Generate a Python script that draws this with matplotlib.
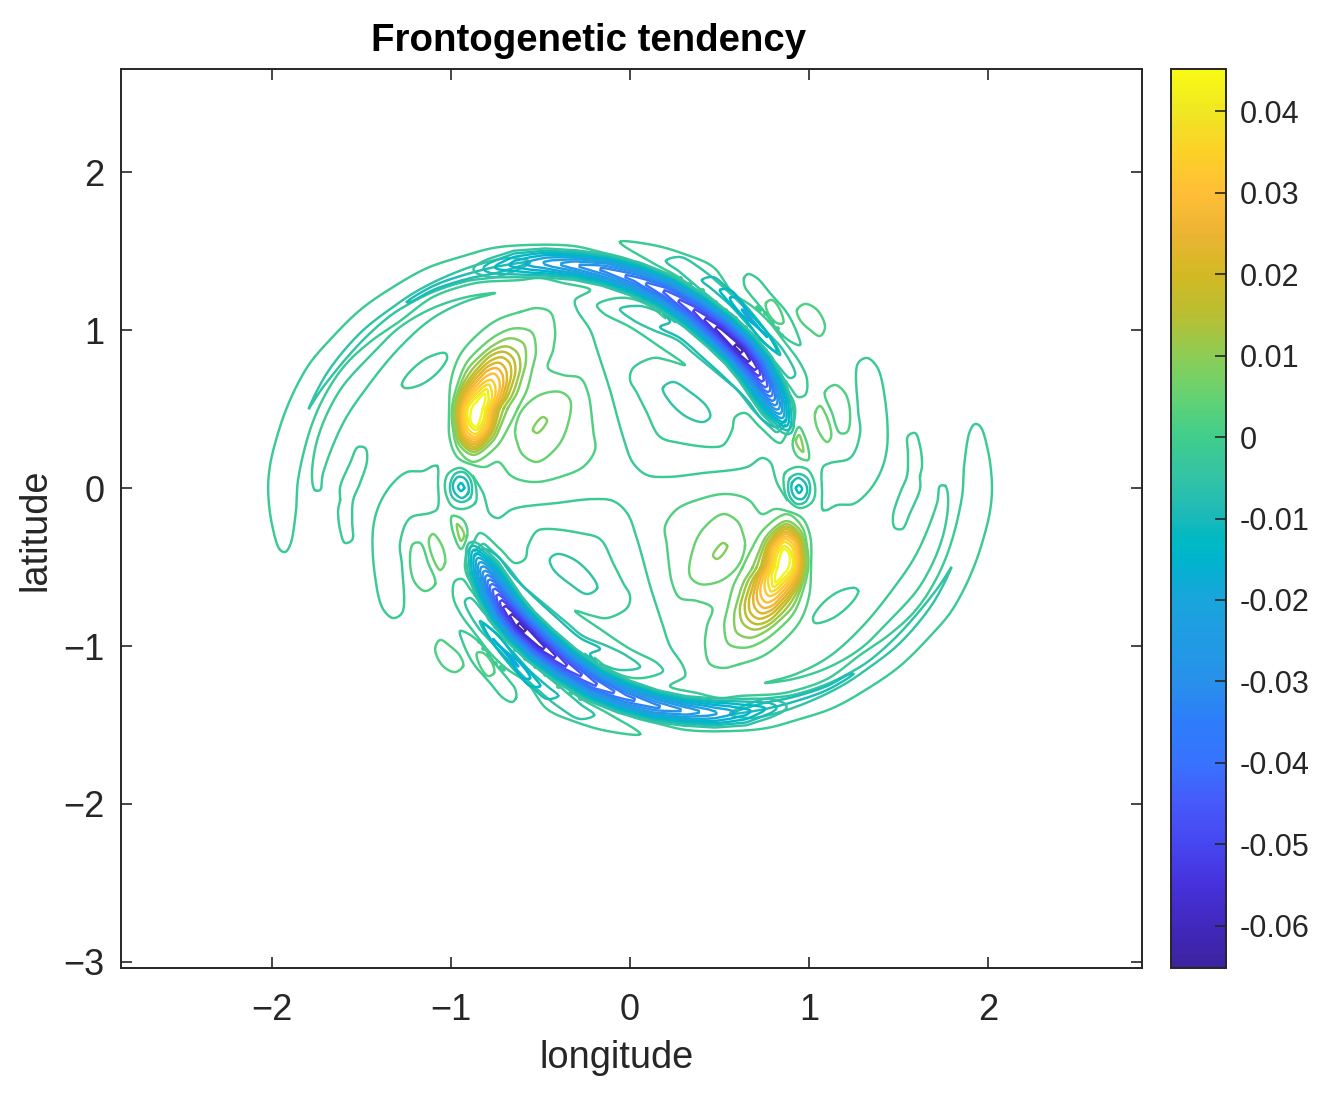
import numpy as np
import matplotlib
matplotlib.use("Agg")
import matplotlib.pyplot as plt
from matplotlib.colors import LinearSegmentedColormap, Normalize
from matplotlib.cm import ScalarMappable

plt.rcParams['font.family'] = ['Liberation Sans', 'DejaVu Sans']

# ---------- readings from the picture (longitude, latitude, field value) ----------
VMIN, VMAX = -0.0652, 0.0452
XLIM = (-2.844, 2.860)
YLIM = (-3.038, 2.652)
x_ticks = [-2, -1, 0, 1, 2]
x_tick_labels = ['\u22122', '\u22121', '0', '1', '2']
y_ticks = [-3, -2, -1, 0, 1, 2]
y_tick_labels = ['\u22123', '\u22122', '\u22121', '0', '1', '2']
cb_ticks = [-0.06, -0.05, -0.04, -0.03, -0.02, -0.01, 0, 0.01, 0.02, 0.03, 0.04]
cb_tick_labels = ['-0.06', '-0.05', '-0.04', '-0.03', '-0.02', '-0.01', '0', '0.01', '0.02', '0.03', '0.04']

cmap_values = [-0.0652, -0.06, -0.055, -0.05, -0.045, -0.04, -0.035, -0.03, -0.02, -0.015, -0.0125,
               -0.01, -0.005, 0, 0.005, 0.01, 0.015, 0.02, 0.025, 0.03, 0.035, 0.04, 0.0452]
cmap_colors = ['#3c23a0', '#4128be', '#4632dc', '#4646f0', '#465afa', '#3773ff', '#2d7dfa', '#2891eb',
               '#19a5dc', '#00b4cd', '#00b9c3', '#19b9b9', '#32c3a5', '#41cd8c', '#64d273', '#8ccd55',
               '#b9be32', '#d2b923', '#ebb432', '#ffbe37', '#fdd028', '#f0e623', '#f8fa14']

LV_M1, LV_M2, LV_M3, LV_M4, LV_M5, LV_M6 = -0.00175, -0.00525, -0.00875, -0.01225, -0.01575, -0.01925
LV_P1, LV_P2, LV_P3 = 0.00175, 0.00525, 0.00875

long_lon = [.877,.821,.782,.737,.654,.408,.207,.095,.017,-.039,-.112,-.179,-.223,-.296,-.307,-.223,-.374,-.503,-.615,
            -.821,-.911,-1.101,-1.285,-1.453,-1.592,-1.704,-1.788,-1.855,-1.866,-1.899,-1.927,-1.955,-2.0,-2.022,-2.011,-1.978,
            -1.927,-1.86,-1.788,-1.693,-1.508,-1.324,-1.134,-.95,-.765,-.575,-.318,-.168,0,.128,.279,.503,.687,.81,.894,.922,
            .911,.877,.838,.726,.642,.587,.57,.52,.464,.279,.168,.095,.039,0,.017,.128,.207,.307,.168,0,-.151,-.184,
            -.128,-.017,.101,.196]
long_lat = [-.076,.032,.165,.19,.133,.095,.07,.082,.158,.323,.62,.854,1.0,1.127,1.19,1.253,1.297,1.329,1.316,
            1.304,1.285,1.209,1.057,.924,.778,.589,.367,.051,-.139,-.361,-.405,-.392,-.234,-.013,.146,.304,
            .481,.652,.791,.918,1.127,1.272,1.392,1.462,1.519,1.538,1.532,1.494,1.443,1.367,1.253,1.051,.842,.671,.589,.506,
            .411,.348,.285,.386,.475,.449,.367,.272,.259,.285,.323,.475,.601,.684,.759,.823,.81,.778,.892,1.019,1.108,1.158,
            1.19,1.203,1.158,1.076]

ring0_lon = [-.615,-.52,-.447,-.419,-.43,-.458,-.374,-.279,-.235,-.207,-.196,-.263,-.391,-.52,-.615,-.67,-.737,-.81,-.877,-.961,-1.006,-1.011,-1.0,-.95,-.855,-.743]
ring0_lat = [1.114,1.139,1.114,1.0,.873,.759,.715,.696,.601,.367,.241,.133,.07,.038,.051,.082,.165,.133,.146,.19,.304,.494,.684,.842,.968,1.063]

oval_lon = [.184,.24,.335,.43,.447,.408,.318,.223]
oval_lat = [.633,.671,.608,.513,.449,.418,.449,.544]

under1_lon = [.168,.056,-.056,.017,.128,.263,.352,.486,.598,.687,.782,.821,.866]
under1_lat = [1.114,1.152,1.133,1.063,1.0,.937,.854,.728,.62,.494,.386,.354,.399]
under2_lon = [.251,.184,.223,.168,.279,.408,.542,.654,.743,.821,.866]
under2_lat = [1.051,1.108,1.051,1.019,.949,.823,.684,.557,.43,.386,.43]

over_lon = [-.056,.128,.318,.464,.575,.687,.782,.855,.95,.989,.978,.939,.894,.821,.687,.503,.279,.128]
over_lat = [1.557,1.538,1.475,1.399,1.234,1.146,1.044,.937,.791,.684,.589,.576,.639,.747,.937,1.127,1.329,1.424]
f_lon = [.201,.279,.391,.52,.642,.754,.855,.922,.894,.81,.67,.531,.391,.279]
f_lat = [1.437,1.462,1.392,1.272,1.139,1.0,.873,.715,.696,.797,.968,1.127,1.259,1.367]
j_lon = [.402,.464,.542,.631,.743,.821,.838,.765,.67,.559,.464]
j_lat = [1.316,1.335,1.266,1.171,1.019,.892,.842,.905,1.019,1.158,1.253]
k_lon = [.503,.559,.654,.765,.821,.743,.654,.542]
k_lat = [1.253,1.253,1.127,.981,.861,.924,1.051,1.19]
l_lon = [.559,.598,.67,.765,.709,.615]
l_lat = [1.203,1.203,1.082,.956,1.019,1.108]
m_lon = [.626,.659,.687,.659]
m_lat = [1.127,1.095,1.051,1.076]

g_lon = [.637,.659,.709,.782,.877,.933,.95,.911,.838,.743,.682,.642]
g_lat = [1.329,1.354,1.329,1.234,1.108,.981,.905,.918,.981,1.127,1.209,1.272]
h_lon = [.76,.793,.838,.855,.821,.771]
h_lat = [1.171,1.19,1.127,1.044,1.044,1.108]
i_lon = [.933,.978,1.045,1.089,1.061,1.006,.95]
i_lat = [1.127,1.165,1.127,1.019,.962,1.0,1.063]

y_lon = [-1.62,-1.62,-1.564,-1.52,-1.48,-1.469,-1.508,-1.547,-1.553,-1.553,-1.592,-1.62,-1.631]
y_lat = [-.076,.006,.158,.259,.253,.177,.032,-.076,-.203,-.329,-.348,-.266,-.139]
z_lon = [1.078,1.073,1.078,1.117,1.229,1.285,1.274,1.274,1.324,1.38,1.425,1.436,1.397,1.324,1.246,1.156,1.101]
z_lat = [-.139,-.032,.133,.158,.19,.348,.494,.791,.823,.766,.557,.259,.095,-.032,-.101,-.108,-.139]
x_lon = [-1.274,-1.246,-1.134,-1.034,-1.022,-1.078,-1.173,-1.257]
x_lat = [.652,.715,.823,.854,.823,.728,.652,.633]

w1_lon = [-.642,-.603,-.503,-.391,-.335,-.352,-.408,-.52,-.598,-.631]
w1_lat = [.367,.494,.589,.608,.557,.386,.259,.165,.209,.291]
w2_lon = [-.542,-.52,-.486,-.464,-.486,-.52]
w2_lat = [.367,.418,.449,.43,.38,.348]

aa_lon = [1.089,1.145,1.201,1.229,1.212,1.173,1.128]
aa_lat = [.608,.652,.601,.475,.354,.348,.475]
bb_lon = [1.034,1.061,1.106,1.123,1.101,1.05]
bb_lat = [.475,.519,.43,.323,.291,.367]
cc_lon = [.911,.944,.994,.994,.939,.911]
cc_lat = [.304,.386,.259,.177,.196,.253]
cd_lon = [.927,.944,.966,.966,.939]
cd_lat = [.304,.335,.259,.228,.259]

v1_lon = [.866,.933,.994,1.034,1.017,.95,.883,.86]
v1_lat = [.095,.133,.114,.006,-.089,-.127,-.076,.006]
v2_lon = [.894,.939,.989,1.006,.978,.933,.894,.883]
v2_lat = [.063,.089,.063,-.013,-.089,-.101,-.057,.006]
v3_lon = [.905,.939,.978,.989,.961,.927,.905]
v3_lat = [.032,.063,.032,-.025,-.07,-.063,-.025]
v4_lon = [.927,.944,.961,.944]
v4_lat = [0,.019,-.006,-.032]

b_lon = [-1.793,-1.693,-1.508,-1.324,-1.19,-1.022,-.838,-.67,-.559,-.726,-.911,-1.101,-1.246,-1.341,-1.508,-1.715]
b_lat = [.506,.728,.981,1.146,1.247,1.342,1.418,1.456,1.43,1.342,1.31,1.241,1.158,1.089,.918,.639]
d_lon = [-1.246,-1.101,-.911,-.726,-.559,-.726,-.911,-1.101,-1.229]
d_lat = [1.177,1.278,1.354,1.405,1.43,1.367,1.323,1.253,1.177]
c_lon = [-1.76,-1.777,-1.743,-1.62,-1.436,-1.285,-1.101,-.911,-.754,-.911,-1.101,-1.285,-1.469,-1.603,-1.715,-1.732]
c_lat = [-.013,.07,.323,.62,.854,1.019,1.139,1.209,1.234,1.184,1.076,.892,.639,.411,.095,-.013]

dots_a_lon = [.279,.335,.402,.475,.531,.587,.642,.698,.754,.793,.838,.866]
dots_a_lat = [1.329,1.297,1.253,1.177,1.127,1.076,1.019,.956,.873,.797,.715,.671]
dots_b_lon = [.709,.726,.754,.793,.821,.844]
dots_b_lat = [1.146,1.133,1.108,1.051,1.013,.968]

# strong negative band: ridge line, half width (in latitude/158 steps), cross-section values
ridge_lon = [-.894,-.782,-.642,-.475,-.307,-.14,.028,.196,.363,.503,.615,.698,.765,.821,.866,.894]
ridge_lat = [1.38,1.392,1.418,1.424,1.411,1.38,1.323,1.241,1.12,.994,.873,.759,.633,.513,.411,.335]
ridge_half_width = [9,12,15,16,16,17,18,19,20,21,21,21,20,18,13,9]
cross_pos = [.07,.2,.4,.6,.8,1.0]
cross_values = [
    [-.004,-.004,-.0035,-.003,-.0025,-.002],
    [-.011,-.0105,-.009,-.007,-.005,-.003],
    [-.017,-.016,-.0135,-.0105,-.007,-.003],
    [-.023,-.0215,-.018,-.0135,-.008,-.003],
    [-.029,-.027,-.022,-.016,-.009,-.003],
    [-.034,-.031,-.026,-.019,-.0105,-.003],
    [-.038,-.035,-.029,-.021,-.0115,-.003],
    [-.044,-.041,-.033,-.024,-.013,-.003],
    [-.051,-.047,-.038,-.027,-.015,-.003],
    [-.059,-.054,-.043,-.031,-.017,-.003],
    [-.062,-.057,-.045,-.032,-.017,-.003],
    [-.055,-.051,-.041,-.029,-.016,-.003],
    [-.043,-.040,-.032,-.023,-.013,-.003],
    [-.028,-.026,-.021,-.015,-.009,-.003],
    [-.015,-.014,-.011,-.008,-.005,-.003],
    [-.004,-.004,-.0035,-.003,-.0025,-.002],
]
band_levels = [-.06125,-.05775,-.05425,-.05075,-.04725,-.04375,-.04025,-.03675,-.03325,-.02975,-.02625,
               -.02275,-.01925,-.01575,-.01225,-.00875,-.00525]

# positive peak: nested rings as radii along rays
peak_lon, peak_lat = -.85, .506
peak_rays = [0,20,35,45,55,65,75,90,105,135,180,215,245,265,295,330]
peak_levels = [.00525,.00875,.01225,.01575,.01925,.02275,.02625,.02975,.03325,.03675,.04025,.04375]
peak_radii = [
    [40,52,66,82,93,88,76,58,46,30,26,31,46,54,43,36],
    [30,41,54,68,79,77,66,50,40,27,24,29,42,47,36,28],
    [26,36,48,60,68,68,60,45,35,25,22.5,27,39,44,33,25],
    [22,31,42,53,61,62,55,40,31,23,21,25,37,41.5,30,22],
    [20,28,37,47,55,56,49,36,28,21,19.5,23.5,35,39,28,20],
    [18,25,33,41,48,50,44,32,25,19,18,22,33,36.5,26,18],
    [16,22,29,36,42,44,39,28,22,17,16.5,20.5,31,34,24,16],
    [14,19,25,31,36,38,33,24,19,15,15,19,29,31.5,22,14],
    [12,16,21,25,29,31,27,20,16,13,13.5,17,26,29,19,12],
    [10,13,17,20,23,26,22,16,13,11,12,15,23,26,16,10],
    [8,10,13,15,18,21,17,12,10,8.5,10,13,19,22,13,8],
    [5,6,8,10,13,16,12,8,6,5.5,6,9,16,19,8,5],
]

TITLE = 'Frontogenetic tendency'
XLABEL = 'longitude'
YLABEL = 'latitude'

contours = [
    (long_lon, long_lat, LV_M1, False), (ring0_lon, ring0_lat, LV_P1, True), (oval_lon, oval_lat, LV_M2, True),
    (under1_lon, under1_lat, LV_M2, False), (under2_lon, under2_lat, LV_M3, False),
    (over_lon, over_lat, LV_M1, True), (f_lon, f_lat, LV_M2, True), (j_lon, j_lat, LV_M3, True),
    (k_lon, k_lat, LV_M4, True), (l_lon, l_lat, LV_M5, True), (m_lon, m_lat, LV_M6, True),
    (g_lon, g_lat, LV_M1, True), (h_lon, h_lat, LV_P1, True), (i_lon, i_lat, LV_P1, True),
    (y_lon, y_lat, LV_M1, True), (z_lon, z_lat, LV_M1, True), (x_lon, x_lat, LV_M1, True),
    (w1_lon, w1_lat, LV_P2, True), (w2_lon, w2_lat, LV_P3, True),
    (aa_lon, aa_lat, LV_P1, True), (bb_lon, bb_lat, LV_P2, True),
    (cc_lon, cc_lat, LV_P1, True), (cd_lon, cd_lat, LV_P3, True),
    (v1_lon, v1_lat, LV_M1, True), (v2_lon, v2_lat, LV_M2, True), (v3_lon, v3_lat, LV_M3, True), (v4_lon, v4_lat, LV_M4, True),
    (b_lon, b_lat, LV_M2, True), (d_lon, d_lat, LV_M3, True), (c_lon, c_lat, LV_M1, True),
]

# ---------- drawing ----------
W, H = 1331, 1100
LW = 1.75
DARK = '#262626'
LON_STEP, LAT_STEP = 1 / 179, 1 / 158

def smooth(lon, lat, closed, n=12):
    """Centripetal Catmull-Rom curve through the traced points."""
    p = np.column_stack([lon, lat]).astype(float)
    if closed:
        p = np.vstack([p[-1], p, p[0], p[1]])
    else:
        p = np.vstack([2 * p[0] - p[1], p, 2 * p[-1] - p[-2]])
    out = []
    for i in range(1, len(p) - 2):
        P = p[i - 1:i + 3]
        k = [0.0]
        for j in range(3):
            k.append(k[-1] + max(np.hypot(*(P[j + 1] - P[j])), 1e-6) ** 0.5)
        t = np.linspace(k[1], k[2], n, endpoint=False)[:, None]
        A1 = (k[1] - t) / (k[1] - k[0]) * P[0] + (t - k[0]) / (k[1] - k[0]) * P[1]
        A2 = (k[2] - t) / (k[2] - k[1]) * P[1] + (t - k[1]) / (k[2] - k[1]) * P[2]
        A3 = (k[3] - t) / (k[3] - k[2]) * P[2] + (t - k[2]) / (k[3] - k[2]) * P[3]
        B1 = (k[2] - t) / (k[2] - k[0]) * A1 + (t - k[0]) / (k[2] - k[0]) * A2
        B2 = (k[3] - t) / (k[3] - k[1]) * A2 + (t - k[1]) / (k[3] - k[1]) * A3
        out.append((k[2] - t) / (k[2] - k[1]) * B1 + (t - k[1]) / (k[2] - k[1]) * B2)
    out.append(p[-2][None, :])
    q = np.vstack(out)
    return q[:, 0], q[:, 1]

cmap = LinearSegmentedColormap.from_list(
    'frontal', [((v - VMIN) / (VMAX - VMIN), c) for v, c in zip(cmap_values, cmap_colors)], N=256)
norm = Normalize(VMIN, VMAX)

fig = plt.figure(figsize=(W / 100, H / 100), dpi=100, facecolor='white')
ax = fig.add_axes([121 / W, 1 - 968 / H, (1142 - 121) / W, (968 - 69) / H])
cax = fig.add_axes([1171 / W, 1 - 968 / H, (1226 - 1171) / W, (968 - 69) / H])

for sign in (1, -1):
    for lon, lat, level, closed in contours:
        sx, sy = smooth(lon, lat, closed)
        ax.plot(sign * sx, sign * sy, color=cmap(norm(level)), lw=LW, solid_joinstyle='round')

    for level, radii in zip(peak_levels, peak_radii):
        th = np.radians(peak_rays)
        r = np.array(radii, float)
        sx, sy = smooth(peak_lon + r * np.cos(th) * LON_STEP, peak_lat + r * np.sin(th) * LAT_STEP, True)
        ax.plot(sign * sx, sign * sy, color=cmap(norm(level)), lw=LW)

    ax.plot(sign * np.array(dots_a_lon), sign * np.array(dots_a_lat), 'o', ms=3.6, mew=0, color=cmap(norm(LV_M1)))
    ax.plot(sign * np.array(dots_b_lon), sign * np.array(dots_b_lat), 'o', ms=3.4, mew=0, color=cmap(norm(LV_M1)))

    # band through a curvilinear grid that follows its ridge line
    cx, cy = np.array(ridge_lon) / LON_STEP, np.array(ridge_lat) / LAT_STEP
    tx, ty = np.gradient(cx), np.gradient(cy)
    ln = np.hypot(tx, ty)
    nx, ny = -ty / ln, tx / ln
    f = np.array([-v for v in cross_pos[::-1]] + list(cross_pos))
    vals = np.array(cross_values)
    V = np.hstack([vals[:, ::-1], vals])
    hw = np.array(ridge_half_width, float)
    X = (cx[:, None] + np.outer(hw * nx, f)) * LON_STEP
    Y = (cy[:, None] + np.outer(hw * ny, f)) * LAT_STEP
    ax.contour(sign * X, sign * Y, V, levels=band_levels, cmap=cmap, norm=norm, linewidths=LW)

ax.set_xlim(*XLIM)
ax.set_ylim(*YLIM)
ax.set_xticks(x_ticks, x_tick_labels)
ax.set_yticks(y_ticks, y_tick_labels)
ax.tick_params(direction='in', length=8, width=1.2, top=True, right=True, labelsize=26,
               color=DARK, labelcolor=DARK)
ax.tick_params(axis='x', pad=18)
ax.tick_params(axis='y', pad=12)
for s in ax.spines.values():
    s.set_linewidth(1.4)
    s.set_color(DARK)

cb = fig.colorbar(ScalarMappable(norm=norm, cmap=cmap), cax=cax)
cb.set_ticks(cb_ticks, labels=cb_tick_labels)
cb.ax.tick_params(direction='in', length=8, width=1.2, labelsize=22, color=DARK, labelcolor=DARK, pad=10, right=True)
cb.outline.set_linewidth(1.4)
cb.outline.set_edgecolor(DARK)

fig.text(589 / W, 1 - 41 / H, TITLE, ha='center', va='center', fontsize=27.6, fontweight='bold', color='black')
fig.text(617 / W, 1 - 1058 / H, XLABEL, ha='center', va='center', fontsize=27.4, color=DARK)
fig.text(35 / W, 1 - 530 / H, YLABEL, ha='center', va='center', rotation=90, fontsize=27.4, color=DARK)

fig.savefig('out.png', dpi=100, facecolor='white')
